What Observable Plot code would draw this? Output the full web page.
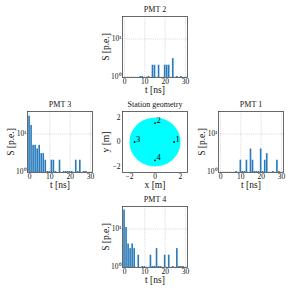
<!DOCTYPE html>
<html>
<head>
<meta charset="utf-8">
<script src="https://cdn.jsdelivr.net/npm/d3@7"></script>
<script src="https://cdn.jsdelivr.net/npm/@observablehq/plot@0.6"></script>
<style>
  html, body { margin: 0; padding: 0; background: #fff; }
  #root { position: relative; width: 291px; height: 291px; overflow: hidden; }
  svg { font-family: "Liberation Serif", "DejaVu Serif", serif; }
</style>
</head>
<body>
<div id="root"></div>
<script>
// ---- data ----
const pmt1T = [8, 10, 11, 12, 13, 15, 16, 17, 18, 19, 20, 21, 22, 23, 26, 28, 29];
const pmt1S = [1, 2, 1, 1, 2, 4, 2, 1, 1, 1, 4, 1, 2, 3, 1, 2, 1];

const pmt2T = [8, 9, 12, 14, 15, 17, 20, 21, 22, 24, 26, 28];
const pmt2S = [1, 1, 1, 2, 2, 2, 2, 2, 2, 3, 1, 1];

const pmt3T = [0, 1, 2, 3, 4, 5, 6, 7, 8, 9, 10, 11, 12, 13, 15, 17, 18, 19, 20, 21, 23, 24, 25, 27, 28];
const pmt3S = [30, 17, 5, 5, 4, 5, 3, 3, 2, 1, 1, 2, 2, 1, 2, 1, 1, 1, 1, 1, 2, 1, 2, 1, 1];

const pmt4T = [0, 1, 2, 3, 4, 5, 7, 9, 10, 13, 14, 15, 16, 17, 18, 20, 22, 24, 26, 27, 28, 29];
const pmt4S = [32, 11, 4, 3, 4, 3, 2, 1, 1, 2, 1, 1, 3, 1, 1, 2, 2, 1, 3, 1, 1, 1];

const tTicks = [0, 10, 20, 30];
const sTicks = [1, 10];
const sTickLabels = ["10\u2070", "10\u00b9"];

const detId = ["1", "2", "3", "4"];
const detX = [1.5, 0, -1.6, 0];
const detY = [0, 1.55, 0, -1.5];
const stationRadius = 2;
const geoTicks = [-2, 0, 2];
const geoTickLabels = ["\u22122", "0", "2"];

// ---- layout ----
const root = document.getElementById("root");
const W = 65, H = 61;
const ml = 30, mr = 4, mt = 14, mb = 26;
const yMin = 0.94, yMax = 40;
const barColor = "#2a7bbb";
const gridStyle = {stroke: "#bbb", strokeWidth: 0.6, strokeDasharray: "1,1.2"};

function place(svg, left, top) {
  svg.style.position = "absolute";
  svg.style.left = (left - ml) + "px";
  svg.style.top = (top - mt) + "px";
  root.append(svg);
}

function labels(title, xl, yl) {
  return [
    Plot.text([title], {frameAnchor: "top", lineAnchor: "middle", textAnchor: "middle", dy: -7, fontSize: 8, fill: "#111"}),
    Plot.text([xl], {frameAnchor: "bottom", lineAnchor: "middle", textAnchor: "middle", dy: 12, fontSize: 9.5, fill: "#111"}),
    Plot.text([yl], {frameAnchor: "left", lineAnchor: "middle", textAnchor: "middle", dx: -17, rotate: -90, fontSize: 9.5, fill: "#111"})
  ];
}

function hist(title, T, S, left, top) {
  const data = T.map((t, i) => ({t, s: S[i]}));
  const svg = Plot.plot({
    width: ml + W + mr, height: mt + H + mb,
    marginLeft: ml, marginRight: mr, marginTop: mt, marginBottom: mb,
    x: {domain: [-1, 31]},
    y: {type: "log", domain: [yMin, yMax]},
    style: {fontFamily: "Liberation Serif", background: "transparent", overflow: "visible", color: "#111"},
    marks: [
      Plot.ruleX(tTicks, gridStyle),
      Plot.ruleY(sTicks, gridStyle),
      Plot.rectY(data, {x1: d => d.t - 0.5, x2: d => d.t + 0.5, y1: yMin, y2: "s", fill: barColor, insetLeft: 0.2, insetRight: 0.2}),
      Plot.frame({stroke: "#444", strokeWidth: 0.8}),
      Plot.axisX({ticks: tTicks, tickSize: 0, tickPadding: 1, fontSize: 7.5, label: null}),
      Plot.axisY({ticks: sTicks, tickSize: 0, tickPadding: 1, fontSize: 7.5, label: null,
                  tickFormat: d => sTickLabels[sTicks.indexOf(d)]}),
      ...labels(title, "t [ns]", "S [p.e.]")
    ]
  });
  place(svg, left, top);
}

function geometry(left, top) {
  const dets = detId.map((id, i) => ({id, x: detX[i], y: detY[i]}));
  const circle = d3.range(0, 361, 3).map(a => ({
    x: stationRadius * Math.cos(a * Math.PI / 180),
    y: stationRadius * Math.sin(a * Math.PI / 180)
  }));
  const fmt = d => geoTickLabels[geoTicks.indexOf(d)];
  const svg = Plot.plot({
    width: ml + W + mr, height: mt + H + mb,
    marginLeft: ml, marginRight: mr, marginTop: mt, marginBottom: mb,
    x: {domain: [-2.55, 2.55]},
    y: {domain: [-2.5, 2.5]},
    style: {fontFamily: "Liberation Serif", background: "transparent", overflow: "visible", color: "#111"},
    marks: [
      Plot.line(circle, {x: "x", y: "y", fill: "#00ffff", stroke: "none"}),
      Plot.dot(dets, {x: "x", y: "y", r: 0.9, fill: "#000"}),
      Plot.text(dets, {x: "x", y: "y", text: "id", dx: 3.5, dy: -3, fontSize: 8.5, fill: "#000"}),
      Plot.frame({stroke: "#444", strokeWidth: 0.8}),
      Plot.axisX({ticks: geoTicks, tickSize: 0, tickPadding: 1, fontSize: 7.5, label: null, tickFormat: fmt}),
      Plot.axisY({ticks: geoTicks, tickSize: 0, tickPadding: 2, fontSize: 7.5, label: null, tickFormat: fmt}),
      ...labels("Station geometry", "x [m]", "y [m]")
    ]
  });
  place(svg, left, top);
}

hist("PMT 2", pmt2T, pmt2S, 122, 16);
hist("PMT 3", pmt3T, pmt3S, 27, 111);
geometry(122, 111);
hist("PMT 1", pmt1T, pmt1S, 218, 111);
hist("PMT 4", pmt4T, pmt4S, 122, 206);
</script>
</body>
</html>
